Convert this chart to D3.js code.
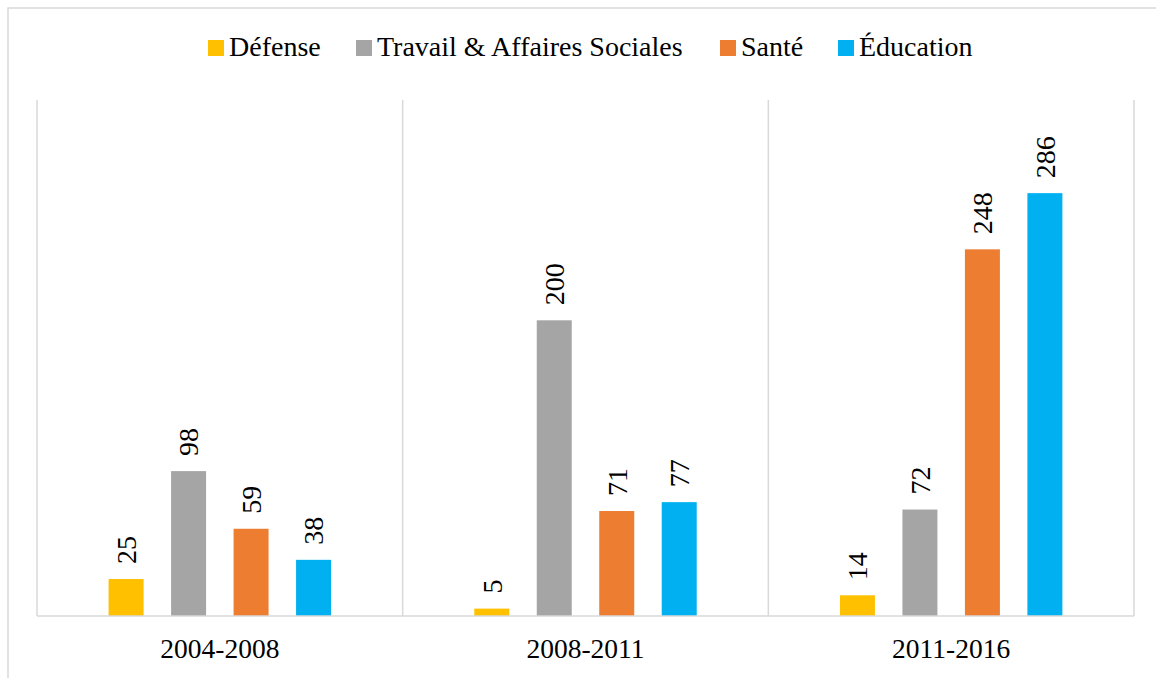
<!DOCTYPE html>
<html>
<head>
<meta charset="utf-8">
<script src="https://cdn.jsdelivr.net/npm/d3@7"></script>
<style>
  html, body { margin: 0; padding: 0; background: #ffffff; }
  svg { display: block; }
</style>
</head>
<body>
<svg id="chart" width="1156" height="678"></svg>
<script>
// Periods on the category axis
const periods = ["2004-2008", "2008-2011", "2011-2016"];
// Sectors (series) and their colours
const sectors = ["Défense", "Travail & Affaires Sociales", "Santé", "Éducation"];
const sectorColors = ["#FFC000", "#A5A5A5", "#ED7D31", "#00B0F0"];
// Values per sector, one entry per period
const defense = [25, 5, 14];
const travail = [98, 200, 72];
const sante = [59, 71, 248];
const education = [38, 77, 286];

const seriesValues = [defense, travail, sante, education];
const rows = [];
periods.forEach((p, i) => {
  sectors.forEach((s, j) => rows.push({ period: p, sector: s, value: seriesValues[j][i], color: sectorColors[j] }));
});

const serif = "'Liberation Serif', 'Times New Roman', serif";
const svg = d3.select("#chart");
const plot = { left: 37, right: 1134, top: 100, bottom: 616 };
const gridColor = "#D9D9D9";

// Outer chart frame
svg.append("rect")
  .attr("x", 8).attr("y", 8)
  .attr("width", 1160).attr("height", 690)
  .attr("fill", "none")
  .attr("stroke", gridColor)
  .attr("stroke-width", 1.5);

const x0 = d3.scaleBand().domain(periods).range([plot.left, plot.right]).padding(0);
const x1 = d3.scaleBand().domain(sectors).range([0, x0.bandwidth()])
  .paddingInner(0.44).paddingOuter(1.146);
const y = d3.scaleLinear().domain([0, 349]).range([plot.bottom, plot.top]);

// Category separators (band boundaries)
const bounds = periods.map(p => x0(p)).concat([plot.right]);
svg.append("g").selectAll("line").data(bounds).join("line")
  .attr("x1", d => d).attr("x2", d => d)
  .attr("y1", plot.top).attr("y2", plot.bottom)
  .attr("stroke", gridColor).attr("stroke-width", 1.5);

// Bars
svg.append("g").selectAll("rect").data(rows).join("rect")
  .attr("x", d => x0(d.period) + x1(d.sector))
  .attr("y", d => y(d.value))
  .attr("width", x1.bandwidth())
  .attr("height", d => y(0) - y(d.value))
  .attr("fill", d => d.color);

// Baseline
svg.append("line")
  .attr("x1", plot.left).attr("x2", plot.right)
  .attr("y1", plot.bottom).attr("y2", plot.bottom)
  .attr("stroke", gridColor).attr("stroke-width", 1.5);

// Value labels, rotated
svg.append("g").selectAll("text").data(rows).join("text")
  .attr("transform", d => `translate(${x0(d.period) + x1(d.sector) + x1.bandwidth() / 2},${y(d.value) - 15}) rotate(-90)`)
  .attr("dy", "0.35em")
  .attr("text-anchor", "start")
  .style("font-family", serif)
  .style("font-size", "28px")
  .attr("fill", "#000")
  .text(d => d.value);

// Category axis labels
const xAxis = d3.axisBottom(x0).tickSize(0).tickPadding(0);
const gx = svg.append("g").attr("transform", `translate(0,${plot.bottom})`).call(xAxis);
gx.select(".domain").remove();
gx.selectAll("text")
  .attr("y", 42)
  .attr("dy", 0)
  .style("font-size", "27.5px")
  .style("font-family", serif)
  .attr("fill", "#000");

// Legend
const legendX = [208, 356, 720, 838];
const legend = svg.append("g").selectAll("g").data(sectors).join("g")
  .attr("transform", (d, i) => `translate(${legendX[i]},40)`);
legend.append("rect").attr("width", 16).attr("height", 16)
  .attr("fill", (d, i) => sectorColors[i]);
legend.append("text")
  .attr("x", 21).attr("y", 16)
  .style("font-family", serif)
  .style("font-size", "28px")
  .attr("fill", "#000")
  .text(d => d);
</script>
</body>
</html>
